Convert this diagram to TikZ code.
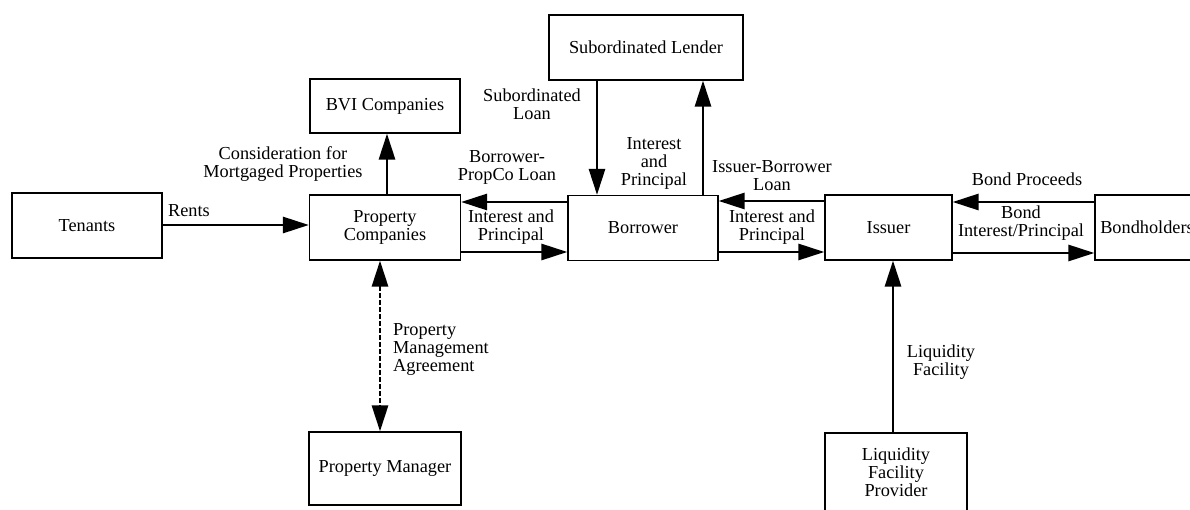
\documentclass[tikz,border=0pt]{standalone}
\usepackage{fontspec}
\setmainfont{Liberation Serif}
\usetikzlibrary{arrows.meta}
\begin{document}
\begin{tikzpicture}[x=1pt,y=-1pt,
  box/.style={draw,line width=1.2pt,rectangle,inner sep=0pt,align=center,font=\fontsize{18.3}{18}\selectfont},
  lbl/.style={inner sep=0pt,align=center,font=\fontsize{18.3}{18}\selectfont},
  arr/.style={line width=2.8pt,-{Triangle[length=26pt,width=16pt]}},
  darr/.style={line width=2.8pt,dash pattern=on 5pt off 2pt,{Triangle[length=26pt,width=16pt]}-{Triangle[length=26pt,width=16pt]}}]
\useasboundingbox (0,0) rectangle (1190,510);
% boxes
\node[box,minimum width=150pt,minimum height=65pt] (tenants) at (87,225.5) {Tenants};
\node[box,minimum width=151pt,minimum height=65pt] (propco) at (385,227.5) {Property\\Companies};
\node[box,minimum width=150pt,minimum height=54pt] (bvi) at (385,106) {BVI Companies};
\node[box,minimum width=194pt,minimum height=65pt] (sub) at (646,47.5) {Subordinated Lender};
\node[box,minimum width=150pt,minimum height=65pt] (borrower) at (643,228) {Borrower};
\node[box,minimum width=127pt,minimum height=65pt] (issuer) at (888.5,227.5) {Issuer};
\node[box,minimum width=104pt,minimum height=65pt] (bond) at (1147,227.5) {Bondholders};
\node[box,minimum width=152pt,minimum height=73pt] (pm) at (385,468.5) {Property Manager};
\node[box,minimum width=142pt,minimum height=78pt] (lfp) at (896,472) {Liquidity\\Facility\\Provider};
% connectors
\draw[arr] (tenants.east |- 0,225) -- (propco.west |- 0,225);
\draw[arr] (propco.north -| 387,0) -- (bvi.south -| 387,0);
\draw[arr] (borrower.west |- 0,202) -- (propco.east |- 0,202);
\draw[arr] (propco.east |- 0,252) -- (borrower.west |- 0,252);
\draw[arr] (sub.south -| 597,0) -- (borrower.north -| 597,0);
\draw[arr] (borrower.north -| 703,0) -- (sub.south -| 703,0);
\draw[arr] (issuer.west |- 0,201) -- (borrower.east |- 0,201);
\draw[arr] (borrower.east |- 0,252) -- (issuer.west |- 0,252);
\draw[arr] (bond.west |- 0,202) -- (issuer.east |- 0,202);
\draw[arr] (issuer.east |- 0,253) -- (bond.west |- 0,253);
\draw[arr] (lfp.north -| 893,0) -- (issuer.south -| 893,0);
\draw[darr] (propco.south -| 380,0) -- (pm.north -| 380,0);
% labels
\node[lbl] (lrents) at (189,211) {Rents};
\node[lbl] (lcons) at (283,164) {Consideration for\\Mortgaged Properties};
\node[lbl] (lbpl) at (507,167) {Borrower-\\PropCo Loan};
\node[lbl] (lip1) at (511,227) {Interest and\\Principal};
\node[lbl] (lsl) at (532,104) {Subordinated\\Loan};
\node[lbl] (lip2) at (654,163) {Interest\\and\\Principal};
\node[lbl] (libl) at (772,176) {Issuer-Borrower\\Loan};
\node[lbl] (lip3) at (772,227) {Interest and\\Principal};
\node[lbl] (lbp) at (1027,179) {Bond Proceeds};
\node[lbl] (lbip) at (1021,223) {Bond\\Interest/Principal};
\node[lbl] (llf) at (941,362) {Liquidity\\Facility};
\node[lbl,anchor=west,align=left] (lpma) at (393,349.5) {Property\\Management\\Agreement};
\end{tikzpicture}
\end{document}
